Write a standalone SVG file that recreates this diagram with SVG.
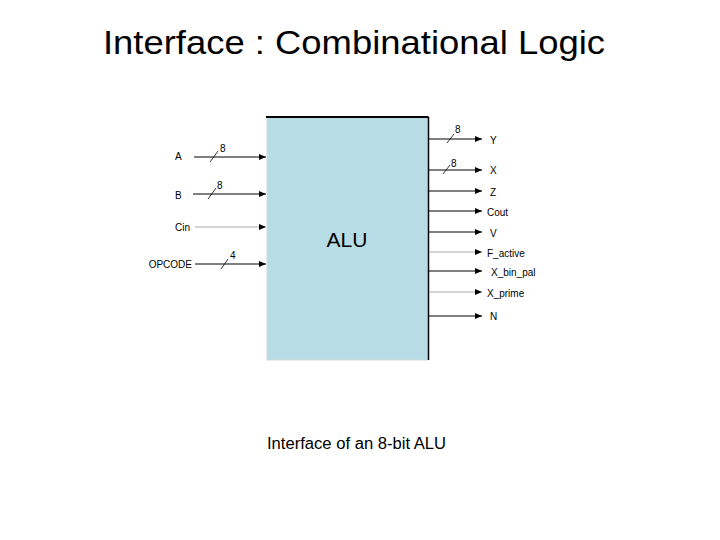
<svg xmlns="http://www.w3.org/2000/svg" width="720" height="540" viewBox="0 0 720 540">
<defs>
<marker id="arr" markerWidth="7" markerHeight="6" refX="7" refY="3" orient="auto" markerUnits="userSpaceOnUse">
<path d="M0,0 L7,3 L0,6 Z" fill="#000"/>
</marker>
<style>
.t{font-family:"Liberation Sans",Arial,sans-serif;fill:#000}
.lbl{font-size:10px}
.w{stroke:#000;stroke-width:1;fill:none}
.g{stroke:#aaa;stroke-width:1;fill:none}
.sl{stroke:#000;stroke-width:0.8}
</style>
</defs>
<rect width="720" height="540" fill="#fff"/>
<text class="t" x="354" y="54" font-size="34" text-anchor="middle" textLength="502" lengthAdjust="spacingAndGlyphs">Interface : Combinational Logic</text>

<g id="alu">
<rect x="267" y="117" width="161" height="243" fill="#b7dce6" stroke="#cfd8dc" stroke-width="1"/>
<line x1="266" y1="117" x2="428.5" y2="117" stroke="#000" stroke-width="2"/>
<line x1="428.5" y1="117" x2="428.5" y2="360" stroke="#000" stroke-width="1.5"/>
<text class="t" x="347" y="247" font-size="21" text-anchor="middle">ALU</text>
</g>

<g id="connectors">
<line class="w" x1="194" y1="157" x2="266" y2="157" marker-end="url(#arr)"/>
<line class="sl" x1="210" y1="162" x2="218" y2="151"/>
<line class="w" x1="193" y1="194" x2="266" y2="194" marker-end="url(#arr)"/>
<line class="sl" x1="208" y1="199" x2="216" y2="188"/>
<line class="g" x1="195" y1="227" x2="266" y2="227"/>
<path d="M259,224 L266,227 L259,230 Z" fill="#000"/>
<line class="w" x1="195" y1="264" x2="266" y2="264" marker-end="url(#arr)"/>
<line class="sl" x1="221" y1="269" x2="228" y2="259"/>
<line class="w" x1="429" y1="139" x2="482" y2="139" marker-end="url(#arr)"/>
<line class="sl" x1="447" y1="143" x2="454" y2="134"/>
<line class="w" x1="429" y1="170" x2="482" y2="170" marker-end="url(#arr)"/>
<line class="sl" x1="443" y1="174" x2="450" y2="165"/>
<line class="w" x1="429" y1="191" x2="482" y2="191" marker-end="url(#arr)"/>
<line class="w" x1="429" y1="211" x2="482" y2="211" marker-end="url(#arr)"/>
<line class="w" x1="429" y1="232" x2="482" y2="232" marker-end="url(#arr)"/>
<line class="g" x1="429" y1="252" x2="482" y2="252"/>
<path d="M475,249 L482,252 L475,255 Z" fill="#000"/>
<line class="w" x1="429" y1="271" x2="482" y2="271" marker-end="url(#arr)"/>
<line class="g" x1="429" y1="292" x2="482" y2="292"/>
<path d="M475,289 L482,292 L475,295 Z" fill="#000"/>
<line class="w" x1="429" y1="316" x2="482" y2="316" marker-end="url(#arr)"/>
</g>

<g id="inputs">
<text class="t lbl" x="175" y="160">A</text>
<text class="t lbl" x="220" y="152">8</text>
<text class="t lbl" x="175" y="199">B</text>
<text class="t lbl" x="217" y="189">8</text>
<text class="t lbl" x="175" y="231">Cin</text>
<text class="t lbl" x="192" y="268" text-anchor="end">OPCODE</text>
<text class="t lbl" x="230" y="259">4</text>
</g>

<g id="outputs">
<text class="t lbl" x="455" y="133">8</text>
<text class="t lbl" x="490" y="144">Y</text>
<text class="t lbl" x="451" y="167">8</text>
<text class="t lbl" x="490" y="174">X</text>
<text class="t lbl" x="490" y="196">Z</text>
<text class="t lbl" x="487" y="216">Cout</text>
<text class="t lbl" x="490" y="237">V</text>
<text class="t lbl" x="487" y="257">F_active</text>
<text class="t lbl" x="491" y="276">X_bin_pal</text>
<text class="t lbl" x="487" y="297">X_prime</text>
<text class="t lbl" x="490" y="320">N</text>
</g>

<text class="t" x="267" y="449" font-size="16" textLength="179" lengthAdjust="spacingAndGlyphs">Interface of an 8-bit ALU</text>
</svg>
